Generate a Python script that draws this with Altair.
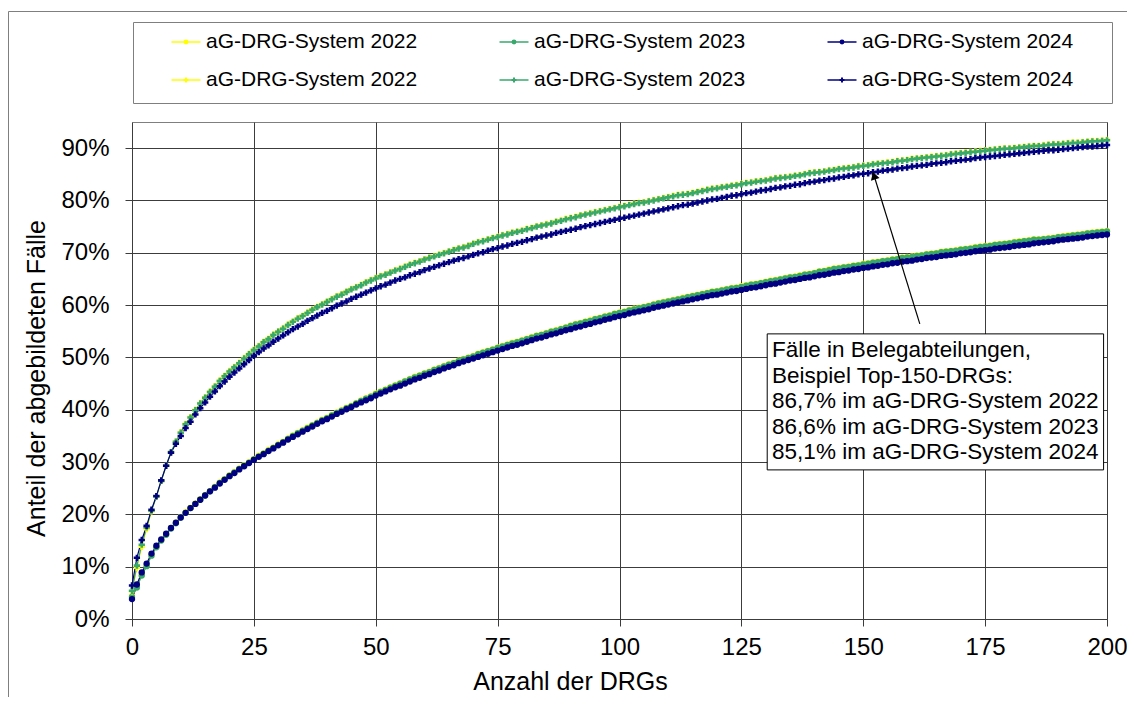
import altair as alt
import pandas as pd

# ---------------- data (percent values) ----------------
x_drg = list(range(0, 201))

series_keys = ["H 2022", "H 2023", "H 2024", "B 2022", "B 2023", "B 2024"]
series_labels = ["aG-DRG-System 2022", "aG-DRG-System 2023", "aG-DRG-System 2024",
                 "aG-DRG-System 2022", "aG-DRG-System 2023", "aG-DRG-System 2024"]
series_colors = ["#FFFF00", "#38A86C", "#000080", "#FFFF00", "#38A86C", "#000080"]
series_shapes = ["circle", "circle", "circle", "cross", "cross", "cross"]
series_sizes = [40, 40, 40, 48, 48, 48]

# lower curves (circle markers, legend row 1)
h2022 = [4.3, 6.1, 8.4, 10.2, 12.2, 13.8, 15.1, 16.2, 17.4, 18.4,
         19.5, 20.4, 21.3, 22.1, 22.9, 23.7, 24.5, 25.3, 26.1, 26.8,
         27.5, 28.1, 28.8, 29.4, 30.0, 30.6, 31.2, 31.7, 32.3, 32.8,
         33.4, 33.9, 34.5, 35.1, 35.6, 36.1, 36.6, 37.1, 37.6, 38.1,
         38.5, 39.0, 39.5, 39.9, 40.4, 40.8, 41.3, 41.8, 42.2, 42.6,
         43.1, 43.5, 43.9, 44.3, 44.7, 45.1, 45.5, 45.9, 46.3, 46.6,
         47.0, 47.3, 47.7, 48.0, 48.4, 48.7, 49.0, 49.4, 49.7, 50.0,
         50.3, 50.7, 51.0, 51.3, 51.6, 51.9, 52.2, 52.5, 52.8, 53.0,
         53.3, 53.6, 53.9, 54.2, 54.4, 54.7, 55.0, 55.2, 55.5, 55.8,
         56.1, 56.4, 56.6, 56.9, 57.1, 57.4, 57.6, 57.9, 58.1, 58.4,
         58.6, 58.8, 59.1, 59.3, 59.5, 59.7, 59.9, 60.2, 60.4, 60.6,
         60.8, 61.0, 61.2, 61.4, 61.6, 61.8, 62.0, 62.2, 62.4, 62.6,
         62.7, 62.9, 63.1, 63.3, 63.4, 63.6, 63.8, 64.0, 64.1, 64.3,
         64.5, 64.7, 64.8, 65.0, 65.2, 65.4, 65.5, 65.7, 65.9, 66.0,
         66.2, 66.5, 66.6, 66.8, 67.0, 67.1, 67.3, 67.4, 67.6, 67.7,
         67.9, 68.0, 68.2, 68.3, 68.5, 68.6, 68.8, 68.9, 69.1, 69.2,
         69.3, 69.5, 69.6, 69.8, 69.9, 70.0, 70.2, 70.3, 70.4, 70.5,
         70.7, 70.8, 70.9, 71.1, 71.2, 71.3, 71.4, 71.6, 71.7, 71.8,
         71.9, 72.1, 72.2, 72.3, 72.4, 72.6, 72.6, 72.7, 72.8, 72.9,
         73.1, 73.2, 73.3, 73.4, 73.5, 73.6, 73.8, 73.9, 74.0, 74.1,
         74.2]
h2023 = [4.2, 6.0, 8.3, 10.1, 12.1, 13.7, 15.0, 16.1, 17.3, 18.3,
         19.4, 20.3, 21.2, 22.0, 22.8, 23.6, 24.4, 25.2, 26.0, 26.7,
         27.4, 28.0, 28.7, 29.3, 29.9, 30.5, 31.1, 31.6, 32.2, 32.7,
         33.3, 33.8, 34.4, 35.0, 35.5, 36.0, 36.5, 37.0, 37.5, 38.0,
         38.4, 38.9, 39.4, 39.8, 40.3, 40.7, 41.2, 41.7, 42.1, 42.5,
         43.0, 43.4, 43.8, 44.2, 44.6, 45.0, 45.4, 45.8, 46.2, 46.5,
         46.9, 47.2, 47.6, 47.9, 48.3, 48.6, 48.9, 49.3, 49.6, 49.9,
         50.2, 50.6, 50.9, 51.2, 51.5, 51.8, 52.1, 52.4, 52.7, 52.9,
         53.2, 53.5, 53.8, 54.1, 54.3, 54.6, 54.9, 55.1, 55.4, 55.7,
         56.0, 56.3, 56.5, 56.8, 57.0, 57.3, 57.5, 57.8, 58.0, 58.3,
         58.5, 58.7, 59.0, 59.2, 59.4, 59.6, 59.8, 60.1, 60.3, 60.5,
         60.7, 60.9, 61.1, 61.3, 61.5, 61.7, 61.9, 62.1, 62.3, 62.5,
         62.6, 62.8, 63.0, 63.2, 63.3, 63.5, 63.7, 63.9, 64.0, 64.2,
         64.4, 64.6, 64.7, 64.9, 65.1, 65.3, 65.4, 65.6, 65.8, 65.9,
         66.1, 66.4, 66.5, 66.7, 66.9, 67.0, 67.2, 67.3, 67.5, 67.6,
         67.8, 67.9, 68.1, 68.2, 68.4, 68.5, 68.7, 68.8, 69.0, 69.1,
         69.2, 69.4, 69.5, 69.7, 69.8, 69.9, 70.1, 70.2, 70.3, 70.4,
         70.6, 70.7, 70.8, 71.0, 71.1, 71.2, 71.3, 71.5, 71.6, 71.7,
         71.8, 72.0, 72.1, 72.2, 72.3, 72.5, 72.5, 72.6, 72.7, 72.8,
         73.0, 73.1, 73.2, 73.3, 73.4, 73.5, 73.7, 73.8, 73.9, 74.0,
         74.1]
h2024 = [3.8, 6.6, 8.9, 10.6, 12.5, 14.0, 15.2, 16.3, 17.4, 18.4,
         19.4, 20.3, 21.2, 22.0, 22.8, 23.6, 24.4, 25.1, 25.9, 26.6,
         27.3, 27.9, 28.6, 29.2, 29.8, 30.4, 31.0, 31.5, 32.1, 32.6,
         33.2, 33.7, 34.3, 34.8, 35.3, 35.8, 36.3, 36.8, 37.3, 37.8,
         38.2, 38.7, 39.2, 39.6, 40.1, 40.5, 41.0, 41.4, 41.8, 42.2,
         42.7, 43.1, 43.5, 43.9, 44.3, 44.6, 45.0, 45.4, 45.8, 46.1,
         46.5, 46.8, 47.2, 47.5, 47.9, 48.2, 48.5, 48.9, 49.2, 49.5,
         49.8, 50.1, 50.4, 50.7, 51.0, 51.3, 51.6, 51.9, 52.2, 52.4,
         52.7, 53.0, 53.3, 53.6, 53.8, 54.1, 54.4, 54.6, 54.9, 55.2,
         55.4, 55.7, 55.9, 56.2, 56.4, 56.7, 56.9, 57.2, 57.4, 57.7,
         57.9, 58.1, 58.4, 58.6, 58.8, 59.0, 59.2, 59.5, 59.7, 59.9,
         60.1, 60.3, 60.5, 60.7, 60.9, 61.1, 61.3, 61.5, 61.7, 61.9,
         62.0, 62.2, 62.4, 62.6, 62.7, 62.9, 63.1, 63.3, 63.4, 63.6,
         63.8, 64.0, 64.1, 64.3, 64.5, 64.7, 64.8, 65.0, 65.2, 65.3,
         65.5, 65.7, 65.8, 66.0, 66.2, 66.3, 66.5, 66.6, 66.8, 66.9,
         67.1, 67.2, 67.4, 67.5, 67.7, 67.8, 68.0, 68.1, 68.3, 68.4,
         68.5, 68.7, 68.8, 69.0, 69.1, 69.2, 69.4, 69.5, 69.6, 69.7,
         69.9, 70.0, 70.1, 70.3, 70.4, 70.5, 70.6, 70.8, 70.9, 71.0,
         71.1, 71.3, 71.4, 71.5, 71.6, 71.8, 71.9, 72.0, 72.1, 72.2,
         72.4, 72.5, 72.6, 72.7, 72.8, 72.9, 73.1, 73.2, 73.3, 73.4,
         73.5]

# upper curves (cross markers, legend row 2) - Belegabteilungen
b2022 = [5.3, 9.8, 13.8, 17.2, 20.6, 23.4, 26.4, 29.3, 31.9, 33.9,
         35.7, 37.3, 38.6, 40.0, 41.3, 42.4, 43.5, 44.5, 45.6, 46.5,
         47.4, 48.2, 49.0, 49.9, 50.7, 51.5, 52.2, 53.0, 53.6, 54.4,
         55.0, 55.6, 56.3, 56.9, 57.5, 58.0, 58.6, 59.2, 59.7, 60.2,
         60.7, 61.2, 61.7, 62.1, 62.6, 63.1, 63.5, 63.9, 64.4, 64.8,
         65.2, 65.6, 65.9, 66.3, 66.7, 67.0, 67.4, 67.8, 68.1, 68.4,
         68.8, 69.1, 69.4, 69.7, 70.0, 70.3, 70.6, 70.9, 71.1, 71.4,
         71.8, 72.1, 72.3, 72.6, 72.9, 73.1, 73.4, 73.6, 73.9, 74.1,
         74.3, 74.6, 74.8, 75.1, 75.3, 75.5, 75.7, 76.0, 76.2, 76.5,
         76.7, 76.9, 77.2, 77.4, 77.6, 77.8, 78.0, 78.2, 78.4, 78.6,
         78.8, 79.0, 79.2, 79.4, 79.6, 79.7, 79.9, 80.1, 80.3, 80.5,
         80.7, 80.9, 81.1, 81.2, 81.3, 81.5, 81.7, 81.9, 82.1, 82.3,
         82.4, 82.6, 82.7, 82.9, 83.0, 83.2, 83.4, 83.5, 83.7, 83.8,
         83.9, 84.1, 84.3, 84.4, 84.5, 84.6, 84.8, 84.9, 85.1, 85.3,
         85.4, 85.5, 85.6, 85.8, 85.9, 86.1, 86.2, 86.3, 86.4, 86.6,
         86.7, 86.8, 87.0, 87.1, 87.2, 87.3, 87.4, 87.6, 87.7, 87.8,
         88.0, 88.1, 88.2, 88.3, 88.4, 88.5, 88.6, 88.7, 88.9, 89.0,
         89.1, 89.2, 89.3, 89.4, 89.5, 89.6, 89.7, 89.8, 89.9, 90.0,
         90.0, 90.1, 90.2, 90.3, 90.4, 90.5, 90.5, 90.6, 90.7, 90.8,
         90.8, 90.9, 91.0, 91.1, 91.1, 91.2, 91.3, 91.4, 91.4, 91.5,
         91.6]
b2023 = [5.4, 10.2, 14.2, 17.5, 20.7, 23.4, 26.4, 29.3, 31.9, 33.9,
         35.6, 37.2, 38.5, 39.9, 41.2, 42.3, 43.4, 44.4, 45.5, 46.4,
         47.3, 48.1, 48.9, 49.8, 50.6, 51.4, 52.1, 52.9, 53.5, 54.3,
         54.9, 55.5, 56.2, 56.8, 57.4, 57.9, 58.5, 59.1, 59.6, 60.1,
         60.6, 61.1, 61.6, 62.0, 62.5, 63.0, 63.4, 63.8, 64.3, 64.7,
         65.1, 65.5, 65.8, 66.2, 66.6, 66.9, 67.3, 67.7, 68.0, 68.3,
         68.7, 69.0, 69.3, 69.6, 69.9, 70.2, 70.5, 70.8, 71.0, 71.3,
         71.7, 72.0, 72.2, 72.5, 72.8, 73.0, 73.3, 73.5, 73.8, 74.0,
         74.2, 74.5, 74.7, 75.0, 75.2, 75.4, 75.6, 75.9, 76.1, 76.4,
         76.6, 76.8, 77.1, 77.3, 77.5, 77.7, 77.9, 78.1, 78.3, 78.5,
         78.7, 78.9, 79.1, 79.3, 79.5, 79.6, 79.8, 80.0, 80.2, 80.4,
         80.6, 80.8, 81.0, 81.1, 81.2, 81.4, 81.6, 81.8, 82.0, 82.2,
         82.3, 82.5, 82.6, 82.8, 82.9, 83.1, 83.3, 83.4, 83.6, 83.7,
         83.8, 84.0, 84.2, 84.3, 84.4, 84.5, 84.7, 84.8, 85.0, 85.2,
         85.3, 85.4, 85.5, 85.7, 85.8, 86.0, 86.1, 86.2, 86.3, 86.5,
         86.6, 86.7, 86.9, 87.0, 87.1, 87.2, 87.3, 87.5, 87.6, 87.7,
         87.9, 88.0, 88.1, 88.2, 88.3, 88.4, 88.5, 88.6, 88.8, 88.9,
         89.0, 89.1, 89.2, 89.3, 89.4, 89.5, 89.6, 89.7, 89.8, 89.9,
         89.9, 90.0, 90.1, 90.2, 90.3, 90.4, 90.4, 90.5, 90.6, 90.7,
         90.7, 90.8, 90.9, 91.0, 91.0, 91.1, 91.2, 91.3, 91.3, 91.4,
         91.5]
b2024 = [6.4, 11.7, 15.1, 17.8, 20.9, 23.5, 26.5, 29.3, 31.8, 33.5,
         35.0, 36.5, 37.7, 39.1, 40.3, 41.4, 42.5, 43.5, 44.5, 45.4,
         46.3, 47.1, 47.9, 48.7, 49.5, 50.3, 51.0, 51.7, 52.3, 53.0,
         53.6, 54.2, 54.8, 55.4, 55.9, 56.4, 57.0, 57.5, 58.0, 58.5,
         58.9, 59.4, 59.9, 60.3, 60.7, 61.2, 61.6, 62.0, 62.4, 62.8,
         63.2, 63.6, 63.9, 64.3, 64.7, 65.0, 65.3, 65.7, 66.0, 66.3,
         66.7, 67.0, 67.3, 67.6, 67.9, 68.2, 68.5, 68.8, 69.0, 69.3,
         69.6, 69.9, 70.1, 70.4, 70.7, 70.9, 71.2, 71.4, 71.7, 71.9,
         72.1, 72.4, 72.6, 72.9, 73.1, 73.3, 73.5, 73.8, 74.0, 74.2,
         74.4, 74.6, 74.9, 75.1, 75.3, 75.5, 75.7, 75.9, 76.1, 76.3,
         76.5, 76.7, 76.9, 77.1, 77.3, 77.5, 77.7, 77.9, 78.1, 78.3,
         78.5, 78.7, 78.9, 79.1, 79.2, 79.4, 79.6, 79.8, 80.0, 80.2,
         80.3, 80.5, 80.7, 80.9, 81.0, 81.2, 81.4, 81.5, 81.7, 81.9,
         82.0, 82.2, 82.4, 82.5, 82.7, 82.8, 83.0, 83.1, 83.3, 83.5,
         83.6, 83.8, 83.9, 84.1, 84.2, 84.4, 84.5, 84.7, 84.8, 85.0,
         85.1, 85.2, 85.4, 85.5, 85.7, 85.8, 85.9, 86.1, 86.2, 86.3,
         86.5, 86.6, 86.7, 86.8, 87.0, 87.1, 87.2, 87.3, 87.5, 87.6,
         87.7, 87.8, 87.9, 88.1, 88.2, 88.3, 88.4, 88.5, 88.6, 88.7,
         88.8, 88.9, 89.0, 89.1, 89.2, 89.3, 89.4, 89.5, 89.6, 89.6,
         89.7, 89.8, 89.9, 90.0, 90.1, 90.2, 90.3, 90.3, 90.4, 90.5,
         90.6]

series_values = [h2022, h2023, h2024, b2022, b2023, b2024]

# annotation
note_lines = ["Fälle in Belegabteilungen,",
              "Beispiel Top-150-DRGs:",
              "86,7% im aG-DRG-System 2022",
              "86,6% im aG-DRG-System 2023",
              "85,1% im aG-DRG-System 2024"]

x_ticks = [0, 25, 50, 75, 100, 125, 150, 175, 200]
y_ticks = [0, 0.1, 0.2, 0.3, 0.4, 0.5, 0.6, 0.7, 0.8, 0.9]

# ---------------- layout constants (pixels / data units) ----------------
PLOT_W, PLOT_H = 975, 497
PAD = {"left": 124, "top": 114, "right": 20, "bottom": 78}
note_box = {"x": 130.3, "x2": 199.3, "y": 0.545, "y2": 0.285}
note_text_pos = {"x": 131.3, "y": 0.535}
arrow_tail = (161.6, 0.564)
arrow_tip = (152.0, 0.854)
LEG_COL0_SYM = 54      # symbol centre, px from plot left
LEG_COL_PITCH = 328
LEG_HALF_LINE = 14.5
LEG_LABEL_DX = 20
LEG_ROW0_Y = -80       # px from plot top
LEG_ROW_PITCH = 38
LEG_BOX_RIGHT = 980

# ---------------- build tables ----------------
rows = []
for key, vals in zip(series_keys, series_values):
    for xv, v in zip(x_drg, vals):
        rows.append({"drgs": xv, "anteil": v / 100.0, "serie": key})
df = pd.DataFrame(rows)

leg_rows = []
for i, (key, lab) in enumerate(zip(series_keys, series_labels)):
    col, row = i % 3, i // 3
    cx = LEG_COL0_SYM + LEG_COL_PITCH * col
    leg_rows.append({"serie": key, "label": lab,
                     "cx": cx, "x1": cx - LEG_HALF_LINE, "x2": cx + LEG_HALF_LINE,
                     "tx": cx + LEG_LABEL_DX,
                     "cy": LEG_ROW0_Y + LEG_ROW_PITCH * row})
leg_df = pd.DataFrame(leg_rows)

FONT = "Liberation Sans"

x_enc = alt.X("drgs:Q", scale=alt.Scale(domain=[0, 200], nice=False, zero=False),
              axis=alt.Axis(values=x_ticks, title="Anzahl der DRGs", tickSize=7,
                            labelPadding=9, titlePadding=10, titleX=438,
                            titleFontSize=25,
                            labelFlush=False, labelOverlap=False, grid=True))
y_enc = alt.Y("anteil:Q", scale=alt.Scale(domain=[0, 0.95], nice=False),
              axis=alt.Axis(values=y_ticks, format=".0%", title="Anteil der abgebildeten Fälle",
                            tickSize=7, labelPadding=16, titlePadding=11, titleY=256,
                            titleFontSize=25, labelOverlap=False, grid=True))
color_enc = alt.Color("serie:N", scale=alt.Scale(domain=series_keys, range=series_colors),
                      legend=None)
shape_enc = alt.Shape("serie:N", scale=alt.Scale(domain=series_keys, range=series_shapes),
                      legend=None)
size_enc = alt.Size("serie:N", scale=alt.Scale(domain=series_keys, range=series_sizes),
                    legend=None)

base = alt.Chart(df)
lines = base.mark_line(strokeWidth=1.2).encode(x=x_enc, y=y_enc, color=color_enc,
                                                order="drgs:Q")
points = base.mark_point(filled=True, opacity=1).encode(
    x="drgs:Q", y="anteil:Q", color=color_enc, shape=shape_enc, size=size_enc)

box_df = pd.DataFrame([note_box])
box = alt.Chart(box_df).mark_rect(fill="white", stroke="black", strokeWidth=1).encode(
    x="x:Q", x2="x2:Q", y="y:Q", y2="y2:Q")

text_df = pd.DataFrame([{"x": note_text_pos["x"], "y": note_text_pos["y"],
                         "t": "\n".join(note_lines)}])
note = alt.Chart(text_df).mark_text(align="left", baseline="top", font=FONT, fontSize=22.5,
                                    lineBreak="\n", lineHeight=25.5, color="black").encode(
    x="x:Q", y="y:Q", text="t:N")

arrow_df = pd.DataFrame([{"x": arrow_tail[0], "y": arrow_tail[1],
                          "x2": arrow_tip[0], "y2": arrow_tip[1]}])
arrow = alt.Chart(arrow_df).mark_rule(color="black", strokeWidth=1.2).encode(
    x="x:Q", y="y:Q", x2="x2:Q", y2="y2:Q")
head_df = pd.DataFrame([{"x": arrow_tip[0] + 0.3, "y": arrow_tip[1] - 0.009}])
head = alt.Chart(head_df).mark_point(shape="triangle", filled=True, size=80, angle=343,
                                     color="black", opacity=1).encode(x="x:Q", y="y:Q")

# legend (drawn from the series table, placed in pixel space above the plot)
leg = alt.Chart(leg_df)
leg_lines = leg.mark_rule(strokeWidth=1.5).encode(
    x=alt.X("x1:Q", scale=None), x2="x2:Q", y=alt.Y("cy:Q", scale=None), color=color_enc)
leg_marks = leg.mark_point(filled=True, size=24, opacity=1).encode(
    x=alt.X("cx:Q", scale=None), y=alt.Y("cy:Q", scale=None), color=color_enc, shape=shape_enc)
leg_text = leg.mark_text(align="left", baseline="middle", font=FONT, fontSize=21,
                         color="black").encode(
    x=alt.X("tx:Q", scale=None), y=alt.Y("cy:Q", scale=None), text="label:N")

one = pd.DataFrame({"k": [0]})
frame_top = alt.Chart(one).mark_rule(color="#7f7f7f", strokeWidth=1).encode(
    x=alt.value(-123.5), x2=alt.value(1010), y=alt.value(-110.5))
frame_left = alt.Chart(one).mark_rule(color="#7f7f7f", strokeWidth=1).encode(
    x=alt.value(-123.5), y=alt.value(-110.5), y2=alt.value(600))
legend_box = alt.Chart(one).mark_rect(fillOpacity=0, stroke="#7f7f7f", strokeWidth=1).encode(
    x=alt.value(1.5), x2=alt.value(LEG_BOX_RIGHT + 0.5), y=alt.value(-99.5), y2=alt.value(-18.5))

chart = alt.layer(lines, points, box, note, arrow, head, frame_top, frame_left, legend_box,
                  leg_lines, leg_marks, leg_text).properties(
    width=PLOT_W, height=PLOT_H,
    autosize=alt.AutoSizeParams(type="none"),
    padding=PAD,
    background="white",
).configure_view(stroke="#7f7f7f", strokeWidth=1).configure_axis(
    gridColor="#3c3c3c", gridWidth=1, tickColor="#3c3c3c", domain=False,
    labelFont=FONT, titleFont=FONT, labelFontSize=24, titleFontSize=24,
    labelColor="black", titleColor="black", titleFontWeight="normal",
)

chart.save("out.html", embed_options={"renderer": "svg", "actions": False})
